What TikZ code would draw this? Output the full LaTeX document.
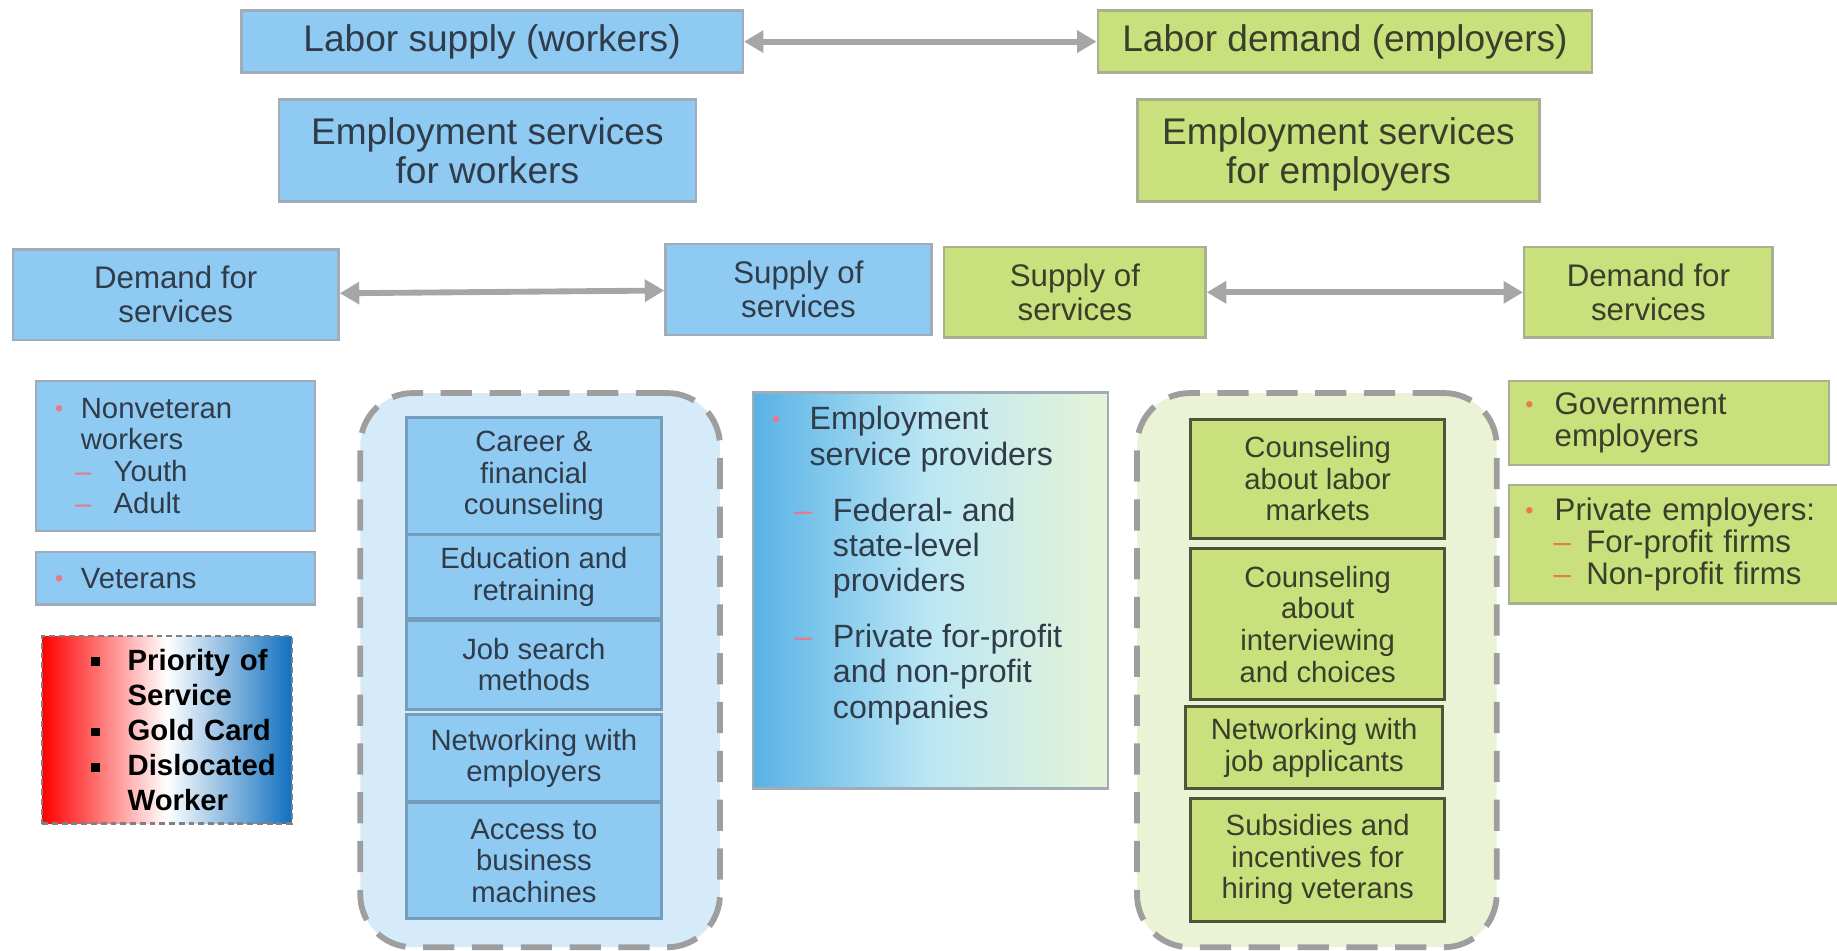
\documentclass[tikz,border=0pt]{standalone}
\usepackage{fontspec}
\setmainfont{Liberation Sans}
\usetikzlibrary{arrows.meta}
\newdimen\pxu \pxu=0.6pt
\definecolor{boxblue}{RGB}{142,202,242}
\definecolor{boxgreen}{RGB}{201,224,124}
\definecolor{edgeblue}{RGB}{160,172,184}
\definecolor{edgegreen}{RGB}{168,176,146}
\definecolor{arrowgray}{RGB}{166,166,166}
\definecolor{framegray}{RGB}{158,158,158}
\definecolor{frameblue}{RGB}{214,235,250}
\definecolor{framegreen}{RGB}{235,243,214}
\definecolor{txtblue}{RGB}{48,60,74}
\definecolor{txtgreen}{RGB}{56,64,44}
\definecolor{bulpink}{RGB}{232,120,140}
\definecolor{bulorange}{RGB}{232,122,80}
\definecolor{flagred}{RGB}{255,0,0}
\definecolor{flagblue}{RGB}{16,112,192}
\definecolor{innerblue}{RGB}{118,156,188}
\definecolor{innergreen}{RGB}{78,86,58}
\definecolor{provleft}{RGB}{88,178,230}
\definecolor{provmid}{RGB}{188,231,244}
\definecolor{provright}{RGB}{230,244,214}
% small list marks
\newcommand\mdot[2]{\makebox[#2\pxu][l]{\raisebox{1pt}{\textcolor{#1}{\fontsize{12}{12}\selectfont\textbullet}}}}
\newcommand\mdash[2]{\makebox[#2\pxu][l]{\textcolor{#1}{\textendash}}}
\newcommand\sqb{\makebox[63\pxu][l]{\hspace*{32\pxu}\rule[2pt]{4.5pt}{4.5pt}}}
\tikzset{
  sz/.style 2 args={minimum width=#1\pxu, minimum height=#2\pxu},
  lbox/.style={draw=edgeblue, line width=1.2pt, fill=boxblue, text=txtblue,
    align=center, anchor=north west, inner sep=0pt},
  gbox/.style={lbox, fill=boxgreen, draw=edgegreen, text=txtgreen},
  toplabel/.style={font=\fontsize{19}{19.8}\selectfont},
  sublabel/.style={font=\fontsize{16}{17.4}\selectfont},
  itemlabel/.style={font=\fontsize{15}{16.2}\selectfont},
  bluecell/.style={lbox, itemlabel, draw=innerblue, line width=1.5pt},
  greencell/.style={gbox, itemlabel, draw=innergreen, line width=1.5pt},
  svcframe/.style={draw=framegray, line width=3pt, dash pattern=on 16pt off 9pt,
    rounded corners=27pt, anchor=north west, inner sep=0pt},
  link/.style={<->, draw=arrowgray, line width=3pt, >={Triangle[length=10pt,width=11pt]}}
}
\begin{document}
\begin{tikzpicture}[x=\pxu,y=-\pxu]
\useasboundingbox (0,0) rectangle (1568,811);
% labour market
\node[lbox, toplabel, sz={428}{53}] (lsupply) at (205,8) {Labor supply (workers)};
\node[gbox, toplabel, sz={422}{53}] (ldemand) at (936,8) {Labor demand (employers)};
\draw[link] (lsupply) -- (ldemand);
\node[lbox, toplabel, sz={356}{87}, text depth=0pt] (eswork) at (237,84) {Employment services\\for workers};
\node[gbox, toplabel, sz={343}{87}, text depth=0pt] (esemp) at (970,84) {Employment services\\for employers};
% service markets
\node[lbox, sublabel, sz={278}{77}] (wdemand) at (10,212) {Demand for\\services};
\node[lbox, sublabel, sz={227}{78}] (wsupply) at (567,207) {Supply of\\services};
\node[gbox, sublabel, sz={223}{77}] (esupply) at (805,210) {Supply of\\services};
\node[gbox, sublabel, sz={212}{77}] (edemand) at (1300,210) {Demand for\\services};
\draw[link] (wdemand) -- (wsupply);
\draw[link] (esupply) -- (edemand);
% workers
\node[lbox, itemlabel, sz={238}{128}, align=left, text width=214\pxu, inner xsep=12\pxu] (nonvet) at (30,324)
  {\hspace*{4\pxu}\mdot{bulpink}{22}Nonveteran\\ \hspace*{26\pxu}workers\\
   \hspace*{21\pxu}\mdash{bulpink}{33}Youth\\ \hspace*{21\pxu}\mdash{bulpink}{33}Adult};
\node[lbox, itemlabel, sz={238}{45}, align=left, text width=214\pxu, inner xsep=12\pxu] (vet) at (30,470)
  {\hspace*{4\pxu}\mdot{bulpink}{22}Veterans};
\node[anchor=north west, sz={213}{160}, left color=flagred, right color=flagblue, middle color=white,
  draw=gray, densely dashed, line width=1.2pt, align=left, text width=193\pxu, inner xsep=10\pxu,
  font=\bfseries\fontsize{15}{18}\selectfont] (priority) at (35,542)
  {\sqb Priority of\\ \hspace*{63\pxu}Service\\ \sqb Gold Card\\ \sqb Dislocated\\ \hspace*{63\pxu}Worker};
% services for workers
\node[svcframe, fill=frameblue, sz={307}{473}] (wframe) at (305,333) {};
\node[bluecell, sz={217}{100}] (career) at (346,355) {Career \&\\financial\\counseling};
\node[bluecell, sz={217}{72}] (educ) at (346,455) {Education and\\retraining};
\node[bluecell, sz={217}{76}] (jobsearch) at (346,528) {Job search\\methods};
\node[bluecell, sz={217}{74}] (wnetwork) at (346,609) {Networking with\\employers};
\node[bluecell, sz={217}{99}] (access) at (346,684) {Access to\\business\\machines};
% providers
\node[anchor=north west, sz={303}{338}, left color=provleft, right color=provright, middle color=provmid,
  draw=edgeblue, line width=1.2pt, inner xsep=10\pxu, inner ysep=12\pxu, text=txtblue,
  font=\fontsize{16.5}{18}\selectfont] (providers) at (642,334)
  {\parbox[c][314\pxu][t]{283\pxu}{\raggedright
   \hspace*{6\pxu}\mdot{bulpink}{32}Employment\\ \hspace*{38\pxu}service providers\\[18\pxu]
   \hspace*{25\pxu}\mdash{bulpink}{33}Federal- and\\ \hspace*{58\pxu}state-level\\ \hspace*{58\pxu}providers\\[18\pxu]
   \hspace*{25\pxu}\mdash{bulpink}{33}Private for-profit\\ \hspace*{58\pxu}and non-profit\\ \hspace*{58\pxu}companies}};
% services for employers
\node[svcframe, fill=framegreen, sz={307}{473}] (eframe) at (968,333) {};
\node[greencell, sz={217}{101}] (labmkt) at (1015,357) {Counseling\\about labor\\markets};
\node[greencell, sz={217}{129}] (interview) at (1015,467) {Counseling\\about\\interviewing\\and choices};
\node[greencell, sz={219}{70}] (applicants) at (1011,602) {Networking with\\job applicants};
\node[greencell, sz={217}{105}] (subsidies) at (1015,680) {Subsidies and\\incentives for\\hiring veterans};
% employers
\node[gbox, font=\fontsize{16}{16.5}\selectfont, sz={273}{72}, align=left, text width=253\pxu, inner xsep=10\pxu] (govt) at (1287,324)
  {\hspace*{4\pxu}\mdot{bulorange}{25}Government\\ \hspace*{29\pxu}employers};
\node[gbox, font=\fontsize{16}{16.5}\selectfont, sz={282}{101}, align=left, text width=262\pxu, inner xsep=10\pxu] (private) at (1287,413)
  {\hspace*{4\pxu}\mdot{bulorange}{25}Private employers:\\ \hspace*{28\pxu}\mdash{bulorange}{28}For-profit firms\\
   \hspace*{28\pxu}\mdash{bulorange}{28}Non-profit firms};
\end{tikzpicture}
\end{document}
